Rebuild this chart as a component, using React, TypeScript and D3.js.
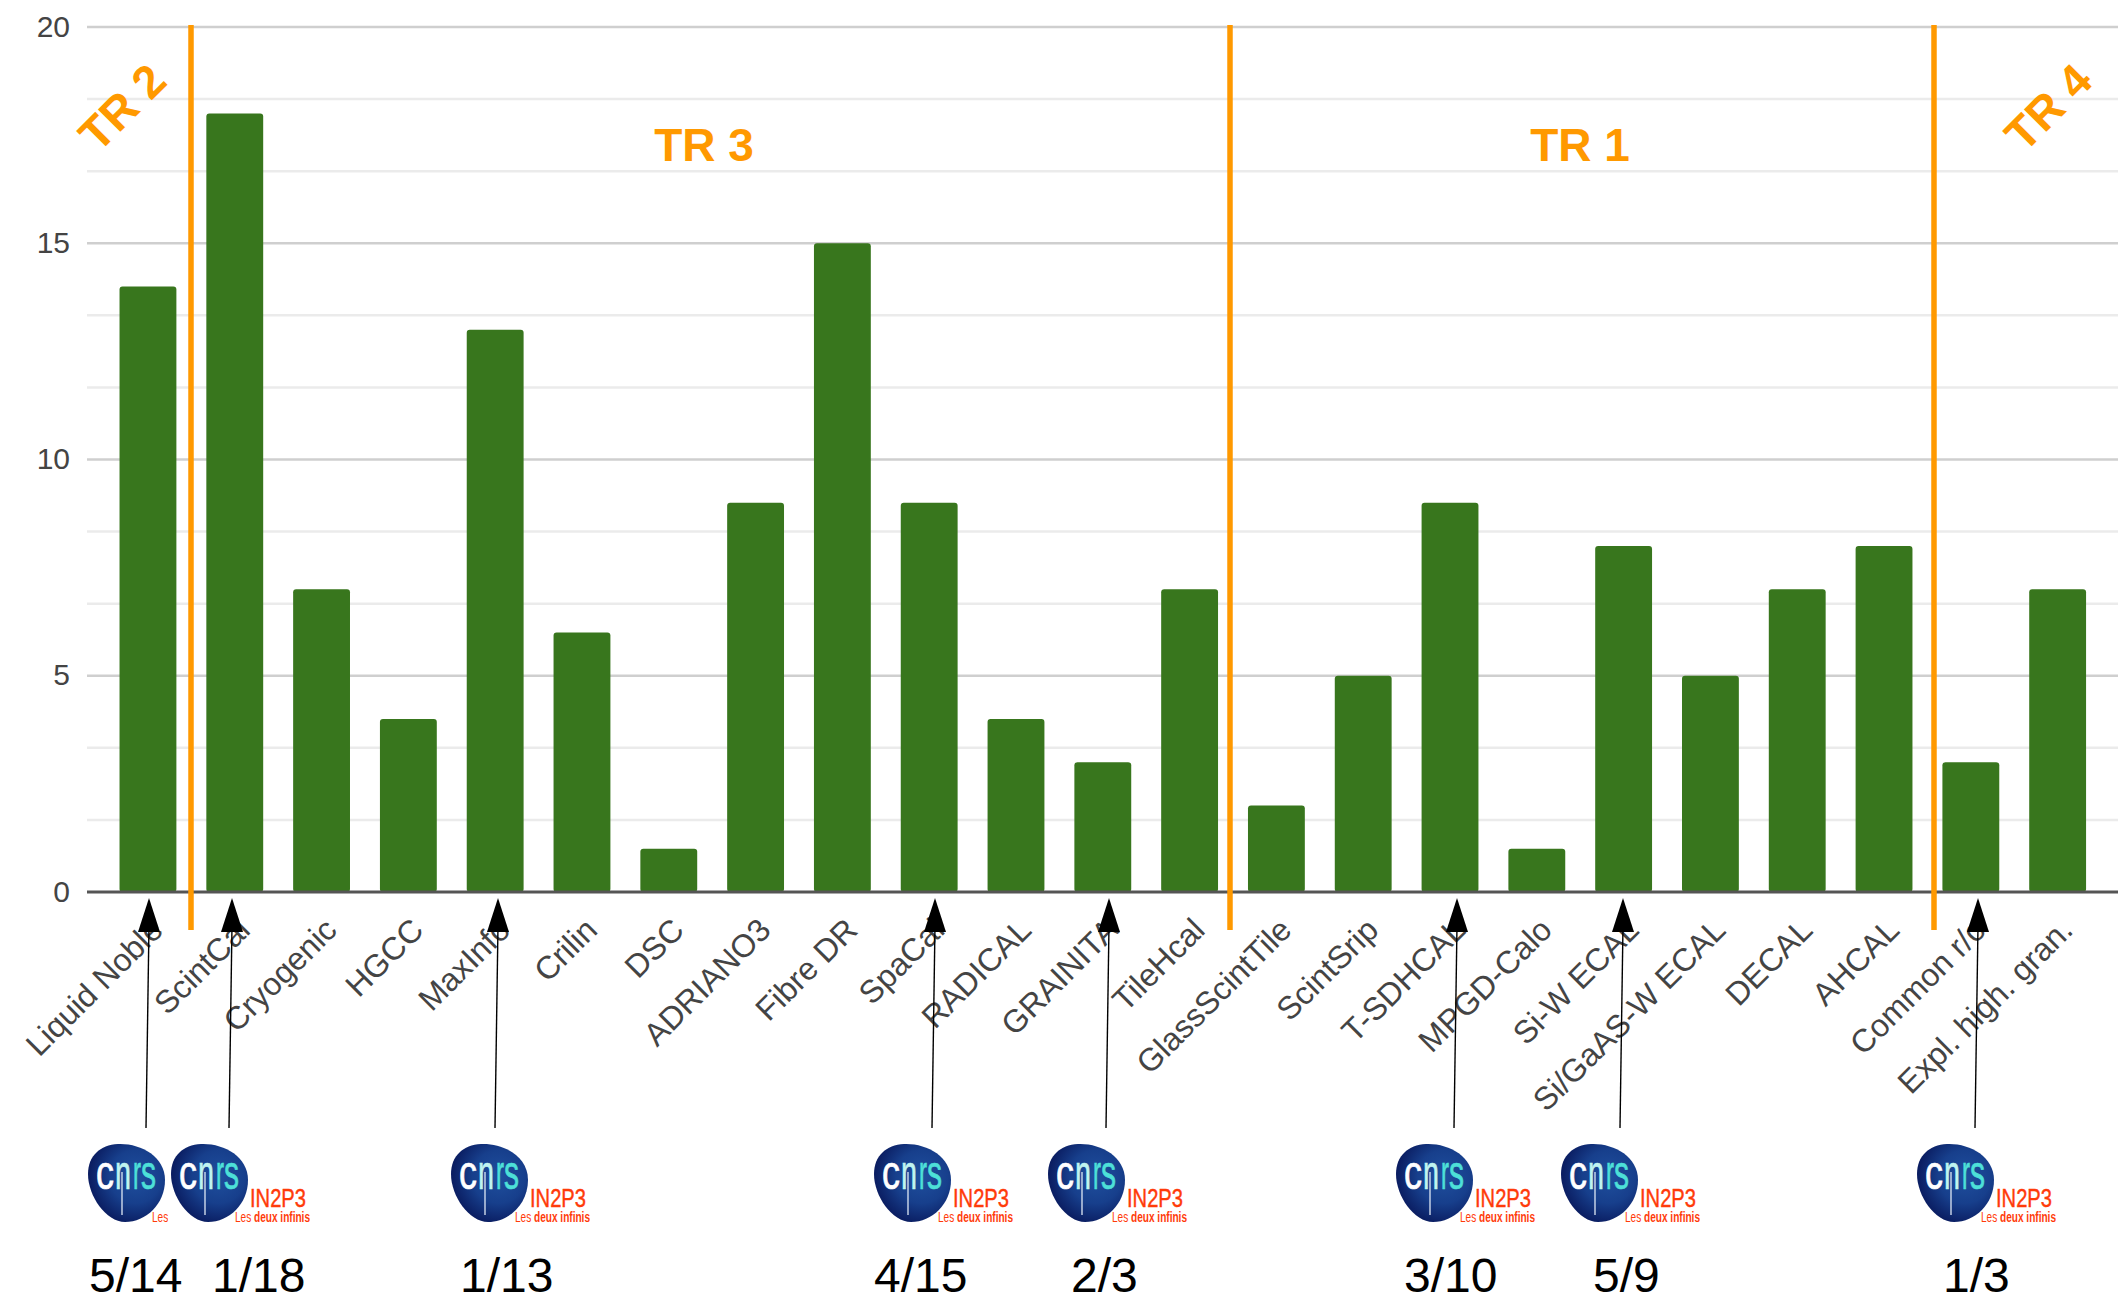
import React from "react";
import * as d3 from "d3";

const categories = ["Liquid Noble","ScintCal","Cryogenic","HGCC","MaxInfo","Crilin","DSC","ADRIANO3","Fibre DR","SpaCal","RADICAL","GRAINITA","TileHcal","GlassScintTile","ScintSrip","T-SDHCAL","MPGD-Calo","Si-W ECAL","Si/GaAS-W ECAL","DECAL","AHCAL","Common r/o","Expl. high. gran."];
const values = [14,18,7,4,13,6,1,9,15,9,4,3,7,2,5,9,1,8,5,7,8,3,7];
const yTicks = [0,5,10,15,20];
const minorTicks = [5/3,10/3,20/3,25/3,35/3,40/3,50/3,55/3];
const dividers = [191,1230,1934];
const trLabels = [
  {t:"TR 2",x:125,y:110,r:-45},
  {t:"TR 3",x:704,y:161,r:0},
  {t:"TR 1",x:1580,y:161,r:0},
  {t:"TR 4",x:2051,y:110,r:-45},
];
const arrowTailX = [146,229,495,932,1106,1454,1620,1975];
const logoX = [88,171,451,874,1048,1396,1561,1917];
const fractions = ["5/14","1/18","1/13","4/15","2/3","3/10","5/9","1/3"];
const fractionX = [89,212,460,874,1071,1404,1593,1943];

const W = 2127, H = 1310;
const x = d3.scaleBand<string>().domain(categories).range([104.6,2101]).paddingInner(0.345).paddingOuter(0.172);
const y = d3.scaleLinear().domain([0,20]).range([892,27]);
const SANS = "'Liberation Sans', Arial, sans-serif";

function Logo({lx}:{lx:number}) {
  const letters = [
    {c:"c",x:8,w:18,f:"#ffffff"},
    {c:"n",x:27,w:16,f:"#bff4f0"},
    {c:"r",x:45,w:8,f:"#4de0d8"},
    {c:"s",x:53,w:15,f:"#4de0d8"},
  ];
  return (
    <g transform={`translate(${lx},1144)`}>
      <rect x={-3} y={-2} width={146} height={84} fill="#fff"/>
      <path d="M30,0 C52,-1 77,12 77,36 C77,60 58,78 37,78 C18,78 0,52 0,30 C0,12 12,1 30,0 Z" fill="url(#blob)"/>
      {letters.map(l=>(
        <text key={l.c} x={l.x} y={45} fontFamily={SANS} fontSize={49} fill={l.f} stroke={l.f} strokeWidth={0.7} textLength={l.w} lengthAdjust="spacingAndGlyphs">{l.c}</text>
      ))}
      <line x1={34} x2={34} y1={28} y2={71} stroke="#dfe8f5" strokeWidth={1.3}/>
      <text x={79} y={63} fontFamily={SANS} fontSize={25} fill="#ff3b0a" stroke="#ff3b0a" strokeWidth={0.4} textLength={56} lengthAdjust="spacingAndGlyphs">IN2P3</text>
      <text x={64} y={78} fontFamily={SANS} fontSize={14} fill="#ff3b0a" textLength={75} lengthAdjust="spacingAndGlyphs"><tspan fontWeight={400}>Les </tspan><tspan fontWeight={700}>deux infinis</tspan></text>
    </g>
  );
}

export default function App() {
  const band = x.bandwidth();
  return (
    <svg width={W} height={H} viewBox={`0 0 ${W} ${H}`} style={{position:"absolute",left:0,top:0,background:"#fff"}} fontFamily={SANS}>
      <defs>
        <radialGradient id="blob" cx="0.62" cy="0.42" r="0.62">
          <stop offset="0" stopColor="#1f4f9e"/>
          <stop offset="0.55" stopColor="#173f8c"/>
          <stop offset="1" stopColor="#0a1c60"/>
        </radialGradient>
      </defs>
      {minorTicks.map(t=><line key={t} x1={87} x2={2118} y1={y(t)} y2={y(t)} stroke="#ebebeb" strokeWidth={2.5}/>)}
      {yTicks.filter(t=>t>0).map(t=><line key={t} x1={87} x2={2118} y1={y(t)} y2={y(t)} stroke="#cfcfcf" strokeWidth={2.5}/>)}
      {yTicks.map(t=><text key={t} x={70} y={y(t)-1} dy="0.35em" textAnchor="end" fontSize={30} fill="#444">{t}</text>)}
      {categories.map((c,i)=>(
        <rect key={c} x={x(c)} y={y(values[i])} width={band} height={y(0)-y(values[i])} rx={3} fill="#38761d"/>
      ))}
      <line x1={87} x2={2118} y1={y(0)} y2={y(0)} stroke="#555" strokeWidth={3}/>
      {categories.map(c=>{
        const cx = x(c)! + band/2 + 17;
        return <text key={c} transform={`translate(${cx},932) rotate(-45)`} textAnchor="end" fontSize={32} fill="#444">{c}</text>;
      })}
      {dividers.map(d=><line key={d} x1={d} x2={d} y1={25} y2={930} stroke="#ff9900" strokeWidth={5.5}/>)}
      {trLabels.map(l=><text key={l.t} transform={`translate(${l.x},${l.y}) rotate(${l.r})`} textAnchor="middle" dominantBaseline={l.r?"middle":undefined} fontSize={46} fontWeight={700} fill="#ff9900">{l.t}</text>)}
      {arrowTailX.map(ax=>{
        const tip = ax+3;
        return <g key={ax}>
          <line x1={ax} x2={tip} y1={1128} y2={925} stroke="#000" strokeWidth={1.4}/>
          <path d={d3.line()([[tip,898],[tip+11,932],[tip-11,932]])+"Z"} fill="#000"/>
        </g>;
      })}
      {logoX.map(l=><Logo key={l} lx={l}/>)}
      {fractions.map((f,i)=><text key={i} x={fractionX[i]} y={1292} fontSize={48} fill="#000">{f}</text>)}
    </svg>
  );
}
